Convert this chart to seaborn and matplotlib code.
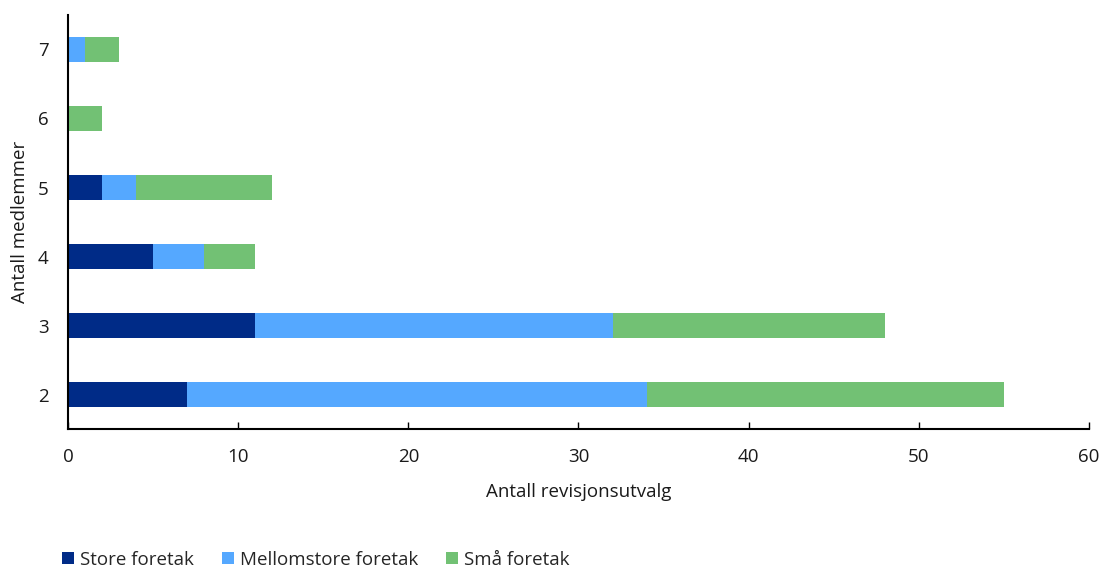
import matplotlib
matplotlib.use("Agg")
import matplotlib.pyplot as plt
import seaborn as sns
import pandas as pd
import numpy as np
from matplotlib.patches import Patch

members = ["7", "6", "5", "4", "3", "2"]
store = [0, 0, 2, 5, 11, 7]
mellomstore = [1, 0, 2, 3, 21, 27]
sma = [2, 2, 8, 3, 16, 21]

series_names = ["Store foretak", "Mellomstore foretak", "Små foretak"]
colors = ["#002b87", "#55a8ff", "#72c174"]

sns.set_theme(style="white")
plt.rcParams["font.family"] = ["Open Sans", "DejaVu Sans"]

FS = 13.5

df = pd.DataFrame({"members": members, "store": store,
                   "mellomstore": mellomstore, "sma": sma})
df["cum_store"] = df["store"]
df["cum_mellom"] = df["store"] + df["mellomstore"]
df["cum_sma"] = df["cum_mellom"] + df["sma"]

fig = plt.figure(figsize=(11.02, 5.68), dpi=100)
ax = fig.add_axes([0.0617, 0.2447, 0.9265, 0.7289])

# stacked bars: draw totals first, then overlay the inner segments
for col, color in zip(["cum_sma", "cum_mellom", "cum_store"], colors[::-1]):
    sns.barplot(data=df, y="members", x=col, order=members, color=color,
                orient="h", width=0.35, saturation=1, ax=ax, linewidth=0)

ax.set_xlim(0, 60)
ax.set_ylim(5.5, -0.5)
ax.set_xticks(np.arange(0, 61, 10))
ax.set_xlabel("Antall revisjonsutvalg", fontsize=FS, color="#1a1a1a", labelpad=12)
ax.set_ylabel("Antall medlemmer", fontsize=FS, color="#1a1a1a", labelpad=6.5)
ax.tick_params(axis="x", direction="in", length=5, width=1, colors="black",
               labelsize=FS, labelcolor="#1a1a1a", pad=14, bottom=True)
ax.tick_params(axis="y", length=0, labelsize=FS, labelcolor="#1a1a1a", pad=14)

for side in ["top", "right"]:
    ax.spines[side].set_visible(False)
for side in ["left", "bottom"]:
    ax.spines[side].set_color("black")
    ax.spines[side].set_linewidth(1.5)

handles = [Patch(facecolor=c, edgecolor="none") for c in colors]
fig.legend(handles, series_names, loc="center left", bbox_to_anchor=(0.048, 0.0145),
           ncol=3, frameon=False, fontsize=FS, handlelength=0.65, handleheight=0.65,
           handletextpad=0.3, columnspacing=1.5, borderpad=0)

fig.savefig("out.png", dpi=100)
